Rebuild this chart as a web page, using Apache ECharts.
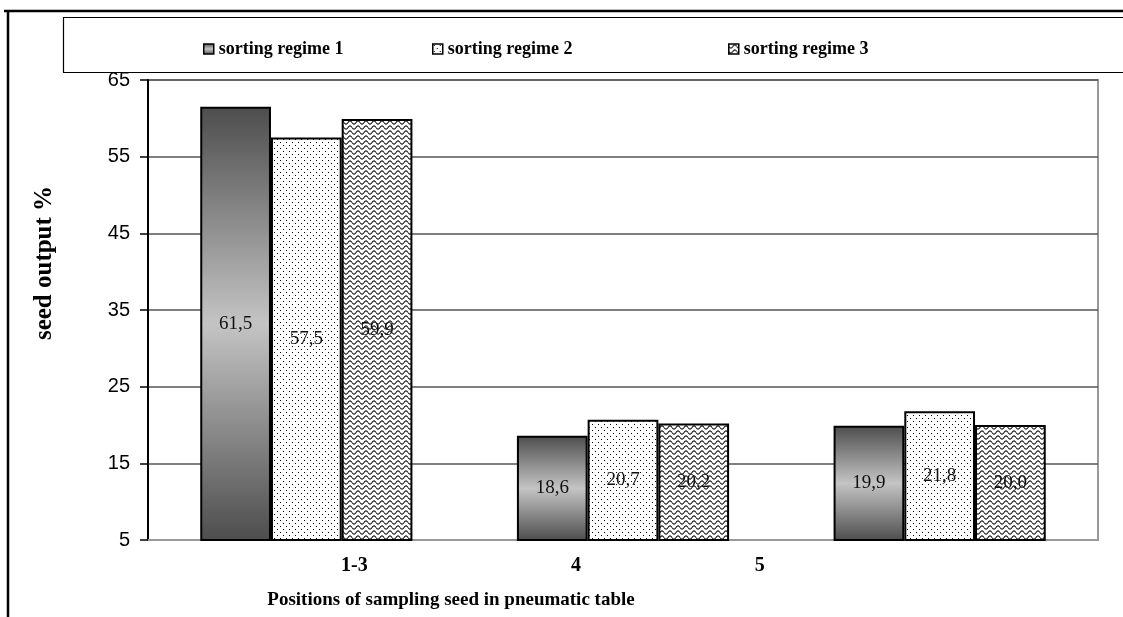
<!DOCTYPE html>
<html>
<head>
<meta charset="utf-8">
<script src="https://cdn.jsdelivr.net/npm/echarts@6/dist/echarts.min.js"></script>
<style>html,body{margin:0;padding:0;background:#fff}#c{width:1123px;height:617px}</style>
</head>
<body>
<div id="c"></div>
<script>
var categories = ['1-3', '4', '5'];
var seriesNames = ['sorting regime 1', 'sorting regime 2', 'sorting regime 3'];
var regime1 = [61.5, 18.6, 19.9];
var regime2 = [57.5, 20.7, 21.8];
var regime3 = [59.9, 20.2, 20.0];
var yTicks = [5, 15, 25, 35, 45, 55, 65];

function dotPattern() {
  var c = document.createElement('canvas');
  c.width = 6; c.height = 6;
  var g = c.getContext('2d');
  g.fillStyle = '#fff'; g.fillRect(0, 0, 6, 6);
  g.fillStyle = '#000';
  g.fillRect(1, 1, 1, 1);
  g.fillRect(4, 4, 1, 1);
  return c;
}
function wavePattern() {
  var c = document.createElement('canvas');
  c.width = 8; c.height = 5;
  var g = c.getContext('2d');
  g.fillStyle = '#fff'; g.fillRect(0, 0, 8, 5);
  g.strokeStyle = '#111'; g.lineWidth = 1.1;
  g.beginPath();
  for (var x = 0; x <= 8; x += 0.5) {
    var y = 2.5 + 1.6 * Math.sin(x / 8 * Math.PI * 2);
    if (x === 0) g.moveTo(x, y); else g.lineTo(x, y);
  }
  g.stroke();
  return c;
}

var gradFill = new echarts.graphic.LinearGradient(0, 0, 0, 1, [
  {offset: 0, color: '#4d4d4d'},
  {offset: 0.5, color: '#c4c4c4'},
  {offset: 1, color: '#4d4d4d'}
]);
var styles = [
  gradFill,
  {image: dotPattern(), repeat: 'repeat'},
  {image: wavePattern(), repeat: 'repeat'}
];
var dataArr = [regime1, regime2, regime3];

function fmt(p) { return p.value.toFixed(1).replace('.', ','); }

var series = seriesNames.map(function (n, i) {
  return {
    name: n,
    type: 'bar',
    data: dataArr[i],
    barGap: '0%',
    barCategoryGap: '33%',
    itemStyle: {color: styles[i], borderColor: '#000', borderWidth: 2},
    label: {
      show: true, position: 'inside', formatter: fmt,
      fontFamily: 'Liberation Serif', fontSize: 19, color: '#111'
    }
  };
});

var chart = echarts.init(document.getElementById('c'), null, {renderer: 'canvas'});
var legendStyle = {fontFamily: 'Liberation Serif', fontSize: 18, fontWeight: 'bold', color: '#000'};
var legendLefts = [198, 427, 723];
chart.setOption({
  animation: false,
  backgroundColor: '#fff',
  grid: {left: 148, right: 25, top: 80, bottom: 77, show: true, borderColor: '#999', borderWidth: 2},
  legend: seriesNames.map(function (n, i) {
    return {
      data: [n], left: legendLefts[i], top: 35, icon: 'rect',
      itemWidth: 10, itemHeight: 10, itemGap: 4, textStyle: legendStyle,
      itemStyle: {borderColor: '#000', borderWidth: 1.5}
    };
  }),
  xAxis: {
    type: 'category', data: categories,
    axisLine: {lineStyle: {color: '#999', width: 2}},
    axisTick: {show: false},
    axisLabel: {
      margin: 16,
      formatter: function (v, idx) { return '{c' + idx + '|' + v + '}'; },
      rich: {
        c0: {fontFamily: 'Liberation Serif', fontWeight: 'bold', fontSize: 20, color: '#000', padding: [0, 0, 0, 96]},
        c1: {fontFamily: 'Liberation Serif', fontWeight: 'bold', fontSize: 20, color: '#000', padding: [0, 94, 0, 0]},
        c2: {fontFamily: 'Liberation Serif', fontWeight: 'bold', fontSize: 20, color: '#000', padding: [0, 360, 0, 0]}
      }
    }
  },
  yAxis: {
    type: 'value', min: yTicks[0], max: yTicks[yTicks.length - 1], interval: 10,
    axisLine: {show: true, lineStyle: {color: '#000', width: 2}},
    axisTick: {show: true, length: 8, lineStyle: {color: '#000', width: 1.5}},
    axisLabel: {fontFamily: 'Liberation Sans', fontSize: 20, color: '#000', margin: 18},
    splitLine: {lineStyle: {color: '#555', width: 1.5}}
  },
  series: series,
  graphic: [
    {type: 'line', shape: {x1: 4, y1: 11, x2: 1123, y2: 11}, style: {stroke: '#000', lineWidth: 2.5}, z: 100},
    {type: 'line', shape: {x1: 8, y1: 10, x2: 8, y2: 617}, style: {stroke: '#000', lineWidth: 2.5}, z: 100},
    {type: 'rect', shape: {x: 63.5, y: 17.5, width: 1080, height: 55}, style: {fill: 'none', stroke: '#000', lineWidth: 1.2}, z: 100},
    {type: 'text', x: 45, y: 263, rotation: Math.PI / 2,
      style: {text: 'seed output %', font: 'bold 25px "Liberation Serif"', fill: '#000', textAlign: 'center', textVerticalAlign: 'middle'}},
    {type: 'text', x: 451, y: 600,
      style: {text: 'Positions of sampling seed in pneumatic table', font: 'bold 19px "Liberation Serif"', fill: '#000', textAlign: 'center', textVerticalAlign: 'middle'}}
  ]
});
</script>
</body>
</html>
